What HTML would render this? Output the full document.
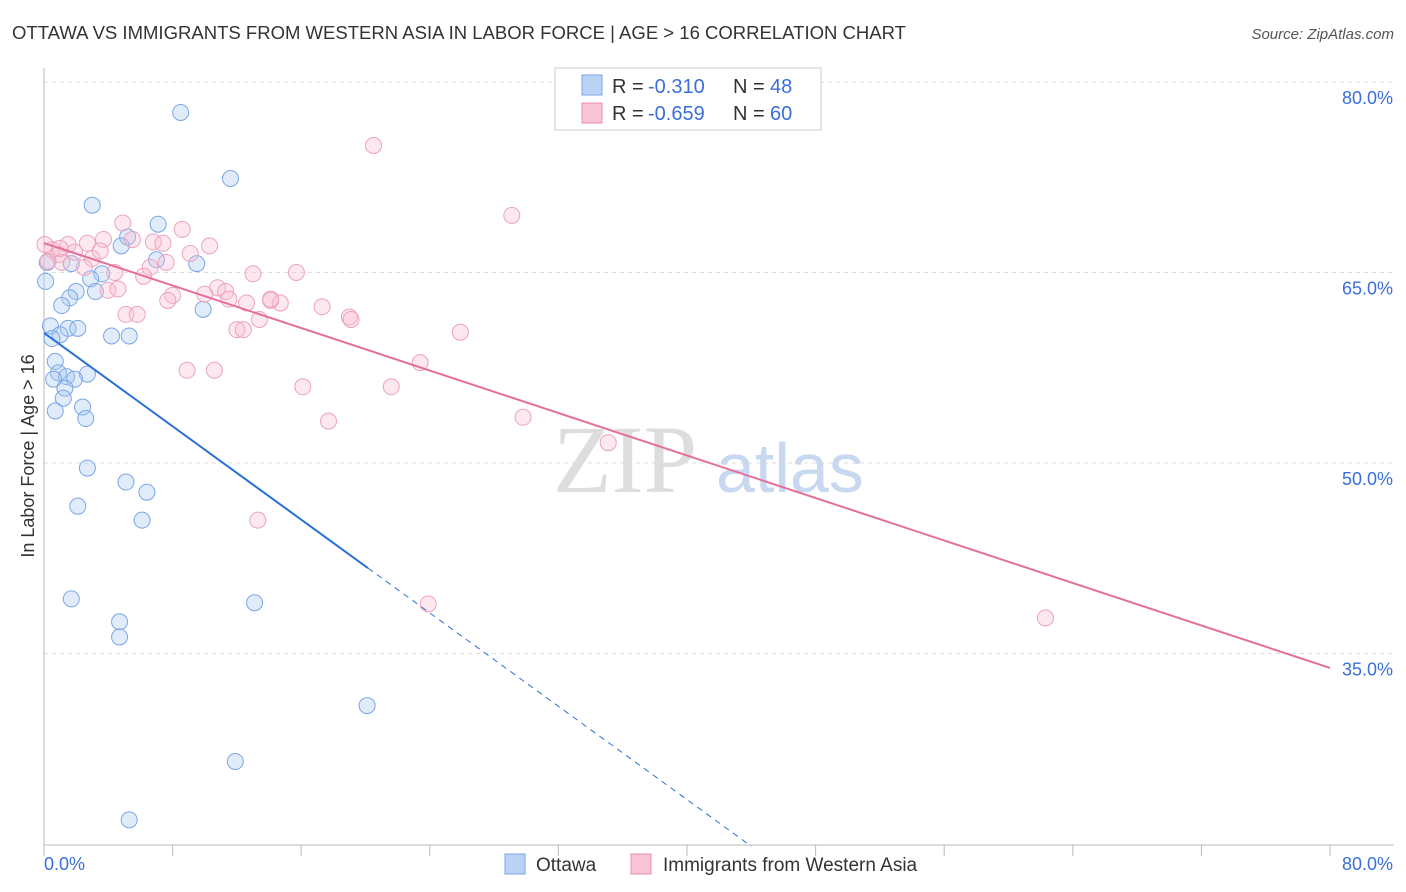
<!DOCTYPE html>
<html><head><meta charset="utf-8">
<style>
body{margin:0;background:#fff;font-family:"Liberation Sans",sans-serif;}
svg{display:block}
</style></head>
<body>
<svg id="chart" width="1406" height="892" xmlns="http://www.w3.org/2000/svg">
<text x="12" y="39" font-size="18" fill="#333" textLength="894" lengthAdjust="spacingAndGlyphs">OTTAWA VS IMMIGRANTS FROM WESTERN ASIA IN LABOR FORCE | AGE &gt; 16 CORRELATION CHART</text>
<text x="1394" y="39" font-size="15" fill="#555" font-style="italic" text-anchor="end">Source: ZipAtlas.com</text>
<g>
<text x="553" y="492" font-size="96" fill="#ddd" font-family="Liberation Serif,serif">ZIP</text>
<text x="716" y="492" font-size="70" fill="#c8d8f0">atlas</text>
</g>
<g id="grid"></g>
<g id="axes"></g>
<g id="marks"></g>
<g>
<rect x="555" y="68" width="266" height="62" fill="#fff" stroke="#ccc"/>
<rect x="582" y="75" width="20" height="20" fill="#b9d2f5" stroke="#7aa6e6"/>
<rect x="582" y="103" width="20" height="20" fill="#f9c4d5" stroke="#eb8db0"/>
<text x="612" y="93" font-size="20" fill="#333">R =</text>
<text x="648" y="93" font-size="20" fill="#3a6fd8">-0.310</text>
<text x="733" y="93" font-size="20" fill="#333">N =</text>
<text x="770" y="93" font-size="20" fill="#3a6fd8">48</text>
<text x="612" y="120" font-size="20" fill="#333">R =</text>
<text x="648" y="120" font-size="20" fill="#3a6fd8">-0.659</text>
<text x="733" y="120" font-size="20" fill="#333">N =</text>
<text x="770" y="120" font-size="20" fill="#3a6fd8">60</text>
</g>
<g>
<rect x="505" y="854" width="20" height="20" fill="#b9d2f5" stroke="#7aa6e6"/>
<text x="536" y="871" font-size="19" fill="#333">Ottawa</text>
<rect x="631" y="854" width="20" height="20" fill="#f9c4d5" stroke="#eb8db0"/>
<text x="663" y="871" font-size="19" fill="#333">Immigrants from Western Asia</text>
</g>
<text transform="translate(34,456) rotate(-90)" font-size="18" fill="#333" text-anchor="middle">In Labor Force | Age &gt; 16</text>
</svg>
<script>
const yTicks=[80,65,50,35];
const yTickLabels=["80.0%","65.0%","50.0%","35.0%"];
const ottawaX=[8.5,11.6,3.0,7.1,5.2,4.8,0.2,7.0,9.5,1.7,3.6,2.9,2.0,3.2,1.6,1.1,9.9,0.4,1.5,2.1,1.0,0.5,4.2,5.3,0.7,0.9,2.7,1.4,1.9,0.6,1.3,1.2,2.4,0.7,2.6,2.7,5.1,6.4,2.1,6.1,1.7,13.1,4.7,4.7,20.1,11.9,5.3,0.1];
const ottawaY=[77.6,72.4,70.3,68.8,67.8,67.1,65.8,66.0,65.7,65.7,64.9,64.5,63.5,63.5,63.0,62.4,62.1,60.8,60.6,60.6,60.1,59.8,60.0,60.0,58.0,57.1,57.0,56.8,56.6,56.6,55.9,55.1,54.4,54.1,53.5,49.6,48.5,47.7,46.6,45.5,39.3,39.0,37.5,36.3,30.9,26.5,21.9,64.3];
const wasiaX=[20.5,29.1,4.9,8.6,2.7,3.7,6.8,7.4,10.3,5.5,1.5,0.5,0.9,1.9,3.0,1.1,9.1,6.6,2.5,4.4,13.0,15.7,6.2,3.98,4.6,10.8,11.3,8.0,10.0,11.5,7.7,12.6,14.1,14.7,17.3,5.1,5.8,13.4,19.0,19.1,12.0,12.4,25.9,23.4,8.9,10.6,16.1,21.6,17.7,29.8,35.1,13.3,23.9,62.3,0.25,1.0,3.5,0.06,7.6,14.1];
const wasiaY=[75.0,69.5,68.9,68.4,67.3,67.6,67.4,67.3,67.1,67.6,67.2,66.8,66.4,66.6,66.1,65.8,66.5,65.4,65.4,65.0,64.9,65.0,64.7,63.6,63.7,63.8,63.5,63.2,63.3,62.9,62.8,62.6,62.8,62.6,62.3,61.7,61.7,61.3,61.5,61.3,60.5,60.5,60.3,57.9,57.3,57.3,56.0,56.0,53.3,53.6,51.6,45.5,38.9,37.8,65.9,66.9,66.7,67.2,65.8,62.9];
const ottawaTrend=[60.24,41.73,18.0];
const wasiaTrend=[67.32,33.86];
const X=v=>44+v*16.075, Y=v=>82+(80-v)*12.7;
const NS="http://www.w3.org/2000/svg";
function mk(t,a,p){const e=document.createElementNS(NS,t);for(const k in a)e.setAttribute(k,a[k]);p.appendChild(e);return e;}
const grid=document.getElementById('grid'),axes=document.getElementById('axes'),marks=document.getElementById('marks');
yTicks.forEach((t,i)=>{
 const l=mk('line',{x1:44,x2:1394,y1:Y(t),y2:Y(t),stroke:'#ddd','stroke-dasharray':'4,4'},grid);
 
 
 const tx=mk('text',{x:1393,y:Y(t)+22,'font-size':18,fill:'#3a6fd8','text-anchor':'end'},axes);
 tx.textContent=yTickLabels[i];
 
 
});
mk('line',{x1:44,x2:44,y1:68,y2:845,stroke:'#bbb'},axes);
mk('line',{x1:44,x2:1394,y1:845,y2:845,stroke:'#bbb'},axes);
for(let i=0;i<=10;i++){const t=mk('line',{x1:X(i*8),x2:X(i*8),y1:845,y2:856,stroke:'#bbb'},axes);
 
 }
const x0=mk('text',{x:44,y:870,'font-size':18,fill:'#3a6fd8'},axes);x0.textContent='0.0%';


const x1=mk('text',{x:1393,y:870,'font-size':18,fill:'#3a6fd8','text-anchor':'end'},axes);x1.textContent='80.0%';


ottawaX.forEach((v,i)=>{const c=mk('circle',{cx:X(v),cy:Y(ottawaY[i]),r:8,fill:'rgba(170,200,240,0.35)',stroke:'#7aa6e6','stroke-width':1},marks);
 
 });
wasiaX.forEach((v,i)=>{const c=mk('circle',{cx:X(v),cy:Y(wasiaY[i]),r:8,fill:'rgba(248,190,210,0.35)',stroke:'#eca2be','stroke-width':1},marks);
 
 });
const sl=(ottawaTrend[1]-ottawaTrend[0])/20.15;
const b1=mk('line',{x1:X(0),y1:Y(ottawaTrend[0]),x2:X(20.15),y2:Y(ottawaTrend[1]),stroke:'#2a6fd6','stroke-width':2},marks);


const b2=mk('line',{x1:X(20.15),y1:Y(ottawaTrend[1]),x2:X(44),y2:Y(ottawaTrend[0]+sl*44),stroke:'#2a6fd6','stroke-width':1,'stroke-dasharray':'6,5'},marks);


const p1=mk('line',{x1:X(0),y1:Y(wasiaTrend[0]),x2:X(80),y2:Y(wasiaTrend[1]),stroke:'#e4709a','stroke-width':2},marks);


</script>
</body></html>
